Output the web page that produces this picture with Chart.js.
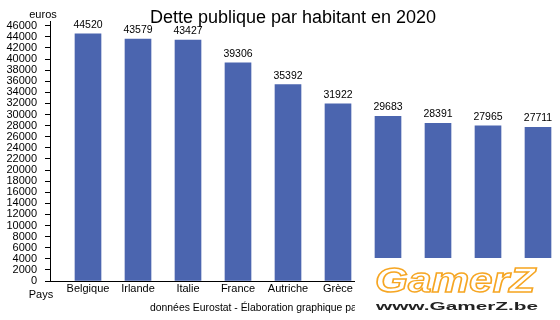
<!DOCTYPE html>
<html>
<head>
<meta charset="utf-8">
<script src="https://cdn.jsdelivr.net/npm/chart.js@4/dist/chart.umd.min.js"></script>
<style>
  body { margin: 0; background: #fff; }
  canvas { display: block; }
</style>
</head>
<body>
<canvas id="chart" width="560" height="320"></canvas>
<script>
const pays = ['Belgique', 'Irlande', 'Italie', 'France', 'Autriche', 'Grèce', '', '', '', ''];
const dette = [44520, 43579, 43427, 39306, 35392, 31922, 29683, 28391, 27965, 27711];
const graduations = [0, 2000, 4000, 6000, 8000, 10000, 12000, 14000, 16000, 18000, 20000, 22000,
  24000, 26000, 28000, 30000, 32000, 34000, 36000, 38000, 40000, 42000, 44000, 46000];
const titre = 'Dette publique par habitant en 2020';
const source = 'données Eurostat - Élaboration graphique pa';

const police = '"Liberation Sans", Arial, sans-serif';

// textes autour du graphique + etiquettes des valeurs + logo
const decor = {
  id: 'decor',
  afterDraw(chart) {
    const ctx = chart.ctx;
    ctx.save();
    ctx.fillStyle = '#000';
    ctx.textBaseline = 'alphabetic';

    ctx.font = '18px ' + police;
    ctx.textAlign = 'center';
    ctx.fillText(titre, 293, 23);

    ctx.font = '11px ' + police;
    ctx.fillText('euros', 43, 18);
    ctx.fillText('Pays', 41, 298);
    ctx.textAlign = 'left';
    ctx.font = '10.4px ' + police;
    ctx.fillText(source, 150, 311);

    // valeurs au-dessus des barres
    ctx.font = '10.5px ' + police;
    ctx.textAlign = 'center';
    chart.getDatasetMeta(0).data.forEach((bar, i) => {
      ctx.fillText(String(dette[i]), bar.x, bar.y - 6);
    });

    // logo GamerZ
    ctx.fillStyle = '#fff';
    ctx.fillRect(355, 258, 205, 62);

    ctx.font = 'italic bold 35px ' + police;
    ctx.textAlign = 'left';
    let w = ctx.measureText('GamerZ').width;
    ctx.save();
    ctx.translate(375, 292);
    ctx.scale(160 / w, 1);
    ctx.lineWidth = 1.4;
    ctx.strokeStyle = '#f6a623';
    ctx.fillStyle = '#fff';
    ctx.fillText('GamerZ', 0, 0);
    ctx.strokeText('GamerZ', 0, 0);
    ctx.restore();

    ctx.font = 'bold 11px ' + police;
    w = ctx.measureText('www.GamerZ.be').width;
    ctx.save();
    ctx.translate(376, 310);
    ctx.scale(162 / w, 1);
    ctx.fillStyle = '#222';
    ctx.fillText('www.GamerZ.be', 0, 0);
    ctx.restore();

    ctx.restore();
  }
};

new Chart(document.getElementById('chart').getContext('2d'), {
  type: 'bar',
  data: {
    datasets: [{
      data: dette.map((v, i) => ({ x: i, y: v })),
      backgroundColor: '#4b65af',
      borderWidth: 0,
      barThickness: 26
    }]
  },
  options: {
    responsive: false,
    animation: false,
    devicePixelRatio: 1,
    layout: { padding: { top: 21, right: 5, left: 0, bottom: 0 } },
    plugins: {
      legend: { display: false },
      tooltip: { enabled: false },
      title: { display: false }
    },
    scales: {
      x: {
        type: 'linear',
        offset: false,
        bounds: 'data',
        min: -0.76,
        max: 9.34,
        afterFit: s => { s.height = 39; },
        afterBuildTicks: s => { s.ticks = pays.map((p, i) => ({ value: i })); },
        grid: { display: false, drawTicks: false },
        border: { color: '#000', width: 1 },
        ticks: {
          autoSkip: false,
          maxRotation: 0,
          padding: 1,
          color: '#000',
          font: { family: police, size: 11 },
          callback: v => pays[v]
        }
      },
      y: {
        bounds: 'data',
        min: 0,
        max: 46850,
        afterFit: s => { s.width = 50; },
        afterBuildTicks: s => { s.ticks = graduations.map(v => ({ value: v })); },
        grid: { drawOnChartArea: false, tickLength: 5, color: '#000' },
        border: { color: '#000', width: 1 },
        ticks: {
          autoSkip: false,
          padding: 8,
          color: '#000',
          font: { family: police, size: 11 },
          callback: v => String(v)
        }
      }
    }
  },
  plugins: [decor]
});
</script>
</body>
</html>
